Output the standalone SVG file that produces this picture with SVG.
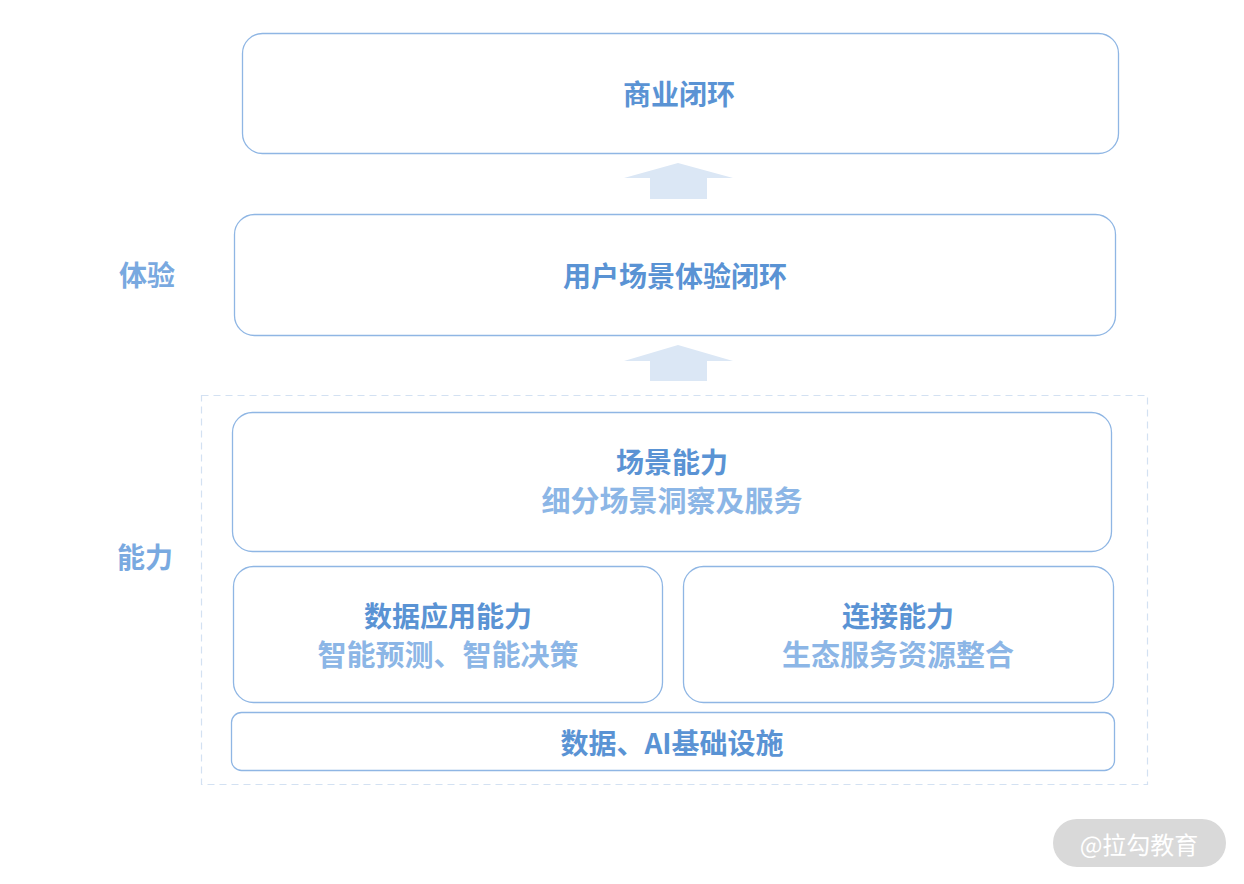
<svg xmlns="http://www.w3.org/2000/svg" width="1244" height="884" viewBox="0 0 1244 884">
<style>
.box{fill:#fff;stroke:#8fb6e4;stroke-width:1.3}
.t{font-family:"Noto Sans CJK SC","Liberation Sans",sans-serif;font-weight:bold;font-size:28px;fill:#5a93d4;text-anchor:middle;dominant-baseline:central}
.s{fill:#8cb6e6;font-size:29px}
.side{fill:#79a9e0}
.arrow{fill:#dbe7f5}
</style>
<rect width="1244" height="884" fill="#fff"/>
<g id="group-ability">
<rect x="201.5" y="395.5" width="946" height="389" fill="none" stroke="#d3e1f2" stroke-width="1.2" stroke-dasharray="7 5"/>
</g>
<g id="connectors">
<polygon class="arrow" points="678,163 733,178 707,178 707,199 650,199 650,178 624,178"/>
<polygon class="arrow" points="678,345 733,361 707,361 707,381 650,381 650,361 624,361"/>
</g>
<g id="label-experience"><text class="t side" x="147" y="274">体验</text></g>
<g id="label-ability"><text class="t side" x="145" y="556">能力</text></g>
<g id="node-business">
<rect class="box" x="242.5" y="33.5" width="876" height="120" rx="20"/>
<text class="t" x="679" y="93">商业闭环</text>
</g>
<g id="node-user">
<rect class="box" x="234.5" y="214.5" width="881" height="121" rx="20"/>
<text class="t" x="675" y="275">用户场景体验闭环</text>
</g>
<g id="node-scene">
<rect class="box" x="232.5" y="412.5" width="879" height="139" rx="20"/>
<text class="t" x="672" y="461">场景能力</text>
<text class="t s" x="672" y="499">细分场景洞察及服务</text>
</g>
<g id="node-data-app">
<rect class="box" x="233.5" y="566.5" width="429" height="136" rx="20"/>
<text class="t" x="448" y="615">数据应用能力</text>
<text class="t s" x="448" y="653">智能预测、智能决策</text>
</g>
<g id="node-connect">
<rect class="box" x="683.5" y="566.5" width="430" height="136" rx="20"/>
<text class="t" x="898" y="615">连接能力</text>
<text class="t s" x="898" y="653">生态服务资源整合</text>
</g>
<g id="node-infra">
<rect class="box" x="231.5" y="712.5" width="883" height="58" rx="10"/>
<text class="t" x="672" y="742">数据、AI基础设施</text>
</g>
<g id="watermark">
<rect x="1053" y="819" width="173" height="48" rx="24" fill="#d9d9d9"/>
<text x="1139" y="843" font-family="Noto Sans CJK SC,sans-serif" font-size="24" fill="#fff" text-anchor="middle" dominant-baseline="central">@拉勾教育</text>
</g>
</svg>
